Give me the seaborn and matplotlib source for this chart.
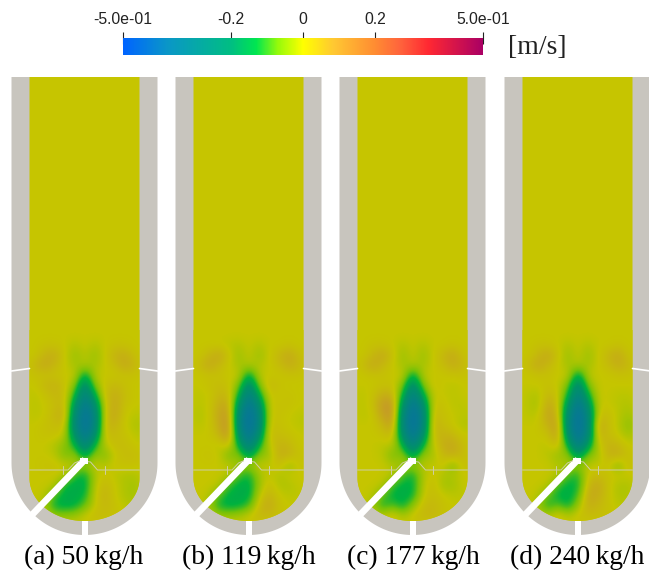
import numpy as np
import matplotlib
matplotlib.use("Agg")
import matplotlib.pyplot as plt
from matplotlib.colors import LinearSegmentedColormap
from matplotlib.patches import PathPatch, Rectangle
from matplotlib.path import Path
import seaborn as sns

# ---- data ----------------------------------------------------------------
CAPTIONS = ["(a) 50\u2009kg/h", "(b) 119\u2009kg/h", "(c) 177\u2009kg/h", "(d) 240\u2009kg/h"]
CAPTION_X = [84, 249, 413, 577]
PANEL_LEFT = [12, 176, 340, 505]
BAR_TICKS = [-0.5, -0.2, 0.0, 0.2, 0.5]
BAR_LABELS = ["-5.0e-01", "-0.2", "0", "0.2", "5.0e-01"]
UNIT = "[m/s]"

# axial velocity in hundredths of m/s: 13 columns (10 px apart), 20 rows (10 px apart)
FIELD_A = [
 [0,0,0,0,0,0,0,0,0,0,0,0,0],
 [0,0,1,1,0,-2,0,-2,0,1,1,0,0],
 [0,0,4,5,0,-4,-1,-4,0,4,5,1,0],
 [0,3,6,3,0,-3,-2,-3,0,2,6,3,0],
 [0,1,1,1,0,0,-16,-1,0,0,1,1,0],
 [0,0,3,4,1,-5,-26,-5,1,3,1,0,0],
 [0,-1,1,3,2,-12,-32,-14,2,5,2,0,0],
 [0,-1,0,2,3,-20,-36,-24,1,6,1,0,0],
 [0,-1,0,3,5,-26,-38,-30,2,6,0,-1,-1],
 [0,0,1,2,2,-28,-38,-30,3,4,0,-2,-2],
 [0,0,1,1,-1,-22,-36,-24,2,2,1,-1,-1],
 [0,0,0,-2,-5,-12,-30,-12,-1,2,2,0,0],
 [0,0,0,-1,-7,-4,-17,-4,-6,0,2,2,0],
 [0,0,1,1,0,-2,-4,0,-2,1,1,1,0],
 [0,0,0,0,-1,-10,-14,-2,1,-1,-2,-2,0],
 [0,0,0,-1,-12,-15,-15,-1,3,0,-2,-3,0],
 [0,0,-1,-9,-15,-15,-13,0,4,0,-2,-3,0],
 [0,0,-3,-14,-15,-14,-8,0,3,1,-1,-2,0],
 [0,0,-1,-5,-5,-4,0,2,2,1,0,0,0],
 [0,0,0,0,0,0,0,0,0,0,0,0,0],
]
FIELD_B = [
 [0,0,0,0,0,0,0,0,0,0,0,0,0],
 [0,0,0,0,-1,-2,0,-2,0,0,1,0,0],
 [0,0,3,6,1,-4,0,-4,0,3,6,2,0],
 [0,2,6,3,0,-3,-2,-2,0,2,5,3,0],
 [0,0,1,1,0,0,-16,-1,0,0,1,1,0],
 [0,0,1,2,1,-6,-26,-6,3,1,0,0,0],
 [0,-1,0,3,3,-13,-33,-15,1,0,1,0,0],
 [0,-1,0,5,6,-22,-37,-25,0,1,1,0,0],
 [0,-2,0,6,9,-28,-39,-30,0,1,0,-1,-1],
 [0,-1,0,5,11,-29,-39,-30,1,1,0,-1,-1],
 [0,0,0,3,10,-24,-37,-24,2,2,1,0,0],
 [0,0,0,-1,2,-14,-32,-13,-1,4,3,0,0],
 [0,0,1,0,-7,-5,-18,-5,-4,5,4,1,0],
 [0,0,0,0,-1,-3,-4,0,-1,2,-4,1,0],
 [0,0,0,0,-1,-9,-13,-3,0,-2,0,0,0],
 [0,0,0,-1,-10,-14,-15,-4,2,-2,-2,0,0],
 [0,0,-1,-8,-14,-15,-15,-1,4,0,-1,-1,0],
 [0,0,-3,-13,-15,-14,-10,2,6,1,0,0,0],
 [0,0,-1,-4,-4,-3,0,3,3,1,0,0,0],
 [0,0,0,0,0,0,0,0,0,0,0,0,0],
]
FIELD_C = [
 [0,0,0,0,0,0,0,0,0,0,0,0,0],
 [0,0,1,1,0,-2,0,-2,0,0,1,0,0],
 [0,0,3,6,1,-4,0,-4,0,3,6,1,0],
 [0,2,6,3,0,-3,-2,-3,0,2,5,3,0],
 [0,0,1,1,0,0,-16,-1,0,0,1,1,0],
 [0,0,0,1,1,-6,-26,-6,1,0,-1,0,0],
 [0,-1,1,5,4,-13,-33,-15,0,0,-1,0,0],
 [0,-1,1,9,9,-22,-37,-25,1,1,-1,-1,0],
 [0,-1,0,7,10,-28,-39,-30,3,1,0,-1,-1],
 [0,0,0,3,8,-29,-39,-30,4,2,0,-2,-1],
 [0,0,0,1,3,-24,-37,-24,2,4,3,0,0],
 [0,0,0,-1,-1,-13,-32,-13,-1,5,6,2,0],
 [0,0,0,-1,-7,-4,-18,-4,-3,3,5,2,0],
 [0,0,0,0,-2,-3,-4,-1,-1,1,-6,2,0],
 [0,0,0,0,-1,-9,-13,-2,1,-2,-2,0,0],
 [0,0,0,-1,-10,-14,-14,-1,2,-3,-3,0,0],
 [0,0,-1,-8,-14,-15,-13,0,2,0,-1,-1,0],
 [0,0,-3,-13,-9,-14,-5,2,3,1,0,0,0],
 [0,0,-1,-1,2,-3,1,3,3,1,0,0,0],
 [0,0,0,0,0,0,0,0,0,0,0,0,0],
]
FIELD_D = [
 [0,0,0,0,0,0,0,0,0,0,0,0,0],
 [0,0,1,1,0,-2,0,-2,0,0,1,0,0],
 [0,0,3,6,1,-4,0,-4,0,3,6,1,0],
 [0,2,6,3,0,-3,-2,-3,0,2,5,3,0],
 [0,0,1,1,0,0,-17,-1,0,0,1,1,0],
 [0,0,0,1,0,-6,-27,-6,0,0,0,0,0],
 [0,-1,-2,3,1,-12,-33,-14,0,0,-1,-1,0],
 [0,-1,-3,6,2,-20,-37,-23,0,0,-1,-2,0],
 [0,-1,-1,7,4,-26,-39,-29,1,2,-1,-3,-1],
 [0,0,0,4,8,-28,-39,-30,6,2,-1,-5,-2],
 [0,0,0,1,8,-24,-38,-28,4,2,0,-3,-1],
 [0,0,0,-1,3,-13,-34,-18,-1,4,3,0,0],
 [0,0,0,-1,-4,-4,-20,-6,-3,4,5,1,0],
 [0,0,0,0,-2,-2,-5,-1,-1,1,-6,2,0],
 [0,0,0,0,-1,-9,-12,1,2,1,0,0,0],
 [0,0,0,-1,-9,-14,-13,3,6,1,-2,-2,0],
 [0,0,-1,-7,-14,-15,-10,6,5,1,-2,-2,0],
 [0,0,-3,-13,-8,-14,-4,5,3,1,-1,-1,0],
 [0,0,-1,-2,2,-2,1,2,2,1,0,0,0],
 [0,0,0,0,0,0,0,0,0,0,0,0,0],
]
FIELDS = [FIELD_A, FIELD_B, FIELD_C, FIELD_D]

# ---- style ---------------------------------------------------------------
sns.set_theme(style="white")
plt.rcParams["font.family"] = ["Liberation Serif", "DejaVu Serif"]

W, H = 649, 577
STOPS = [(0.0, (0, 100, 255)), (0.12, (10, 150, 200)), (0.30, (0, 190, 130)),
         (0.37, (0, 230, 80)), (0.43, (150, 250, 10)), (0.50, (255, 255, 0)),
         (0.585, (255, 200, 50)), (0.70, (255, 140, 50)), (0.77, (255, 100, 60)),
         (0.85, (255, 40, 50)), (1.0, (170, 0, 100))]
bar_cmap = LinearSegmentedColormap.from_list(
    "bar", [(p, tuple(c / 255 for c in col)) for p, col in STOPS], N=1024)
SHADE = 0.775
field_cmap = LinearSegmentedColormap.from_list(
    "field", [(p, tuple(SHADE * c / 255 for c in col)) for p, col in STOPS], N=1024)
WALL = "#C8C5BE"
BASE = field_cmap(0.5)

fig = plt.figure(figsize=(W / 100, H / 100), dpi=100, facecolor="white")
ax = fig.add_axes([0, 0, 1, 1])
ax.set_xlim(0, W)
ax.set_ylim(H, 0)
ax.axis("off")


def vessel(cx, half_w, top, straight_end, bottom):
    t = np.linspace(np.pi, 0, 90)
    xs = cx + half_w * np.cos(t)
    ys = straight_end + (bottom - straight_end) * np.sin(t)
    pts = [(cx - half_w, top)] + list(zip(xs, ys)) + [(cx + half_w, top), (cx - half_w, top)]
    return Path(pts)


for left, data in zip(PANEL_LEFT, FIELDS):
    cx = left + 72.5
    ax.add_patch(PathPatch(vessel(cx, 73, 77, 463, 535), fc=WALL, ec="none", zorder=1))
    fluid = PathPatch(vessel(cx, 55, 77, 478, 521), fc=BASE, ec="none", zorder=2)
    ax.add_patch(fluid)
    x0 = left + 13
    im = ax.imshow(np.array(data) / 100, cmap=field_cmap, vmin=-0.5, vmax=0.5,
                   interpolation="bicubic", interpolation_stage="data",
                   extent=[x0 - 5, x0 + 125, 530, 330], aspect="auto", zorder=3)
    im.set_clip_path(fluid)

    # thin mesh lines at the nozzle plane
    ax.plot([cx - 55, cx - 21, cx - 16.5, cx - 10, cx - 4, cx + 6, cx + 13, cx + 55],
            [470, 470, 470, 463, 460.5, 462, 470, 470], color="#CFCFA8", lw=0.7, zorder=6)
    for dx in (-21.5, 20.5):
        ax.plot([cx + dx, cx + dx], [466, 474], color="#CFCFA8", lw=0.7, zorder=4)

    # inlet slit, drain slot and flange gaps
    ax.plot([cx + 0.5, cx - 55], [459.5, 517.5], color="white", lw=4.8,
            solid_capstyle="butt", zorder=5)
    ax.add_patch(Rectangle((cx - 4.5, 458), 8, 6, fc="white", ec="none", zorder=7))
    ax.add_patch(Rectangle((cx - 3, 521), 6, 16, fc="white", ec="none", zorder=5))
    ax.plot([cx - 73, cx - 55], [371, 368.5], color="white", lw=1.2, zorder=5)
    ax.plot([cx + 55, cx + 73], [368.5, 371], color="white", lw=1.2, zorder=5)

for txt, x in zip(CAPTIONS, CAPTION_X):
    ax.text(x, 557, txt, ha="center", va="center", fontsize=19.8, color="black")
ax.text(537.5, 47.5, UNIT, ha="center", va="center", fontsize=20, color="#222222")

# colour bar
cax = fig.add_axes([123 / W, 1 - 55 / H, 360 / W, 17 / H])
ramp = np.linspace(-0.5, 0.5, 360).reshape(1, -1)
sns.heatmap(ramp, ax=cax, cmap=bar_cmap, vmin=-0.5, vmax=0.5, cbar=False,
            xticklabels=False, yticklabels=False)
cax.set_xticks([(v + 0.5) * 360 for v in BAR_TICKS])
cax.set_xticklabels(BAR_LABELS, fontfamily="Liberation Sans", fontsize=11.3, color="#222222")
cax.set_yticks([])
cax.tick_params(axis="x", top=True, bottom=False, labeltop=True, labelbottom=False,
                direction="inout", length=8.6, width=0.8, color="#222222", pad=3.5)
for s in cax.spines.values():
    s.set_visible(False)

fig.savefig("out.png", dpi=100, facecolor="white")
